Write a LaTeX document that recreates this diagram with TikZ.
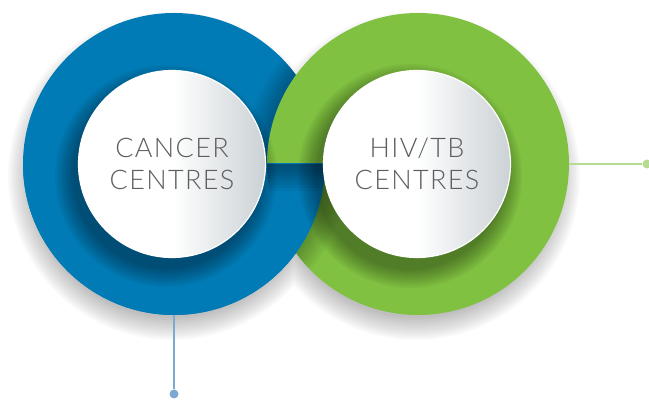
\documentclass[tikz,border=0pt]{standalone}
\usepackage{fontspec}
\setmainfont{Lato Light}[LetterSpace=5]
\usetikzlibrary{positioning}
\definecolor{cancerblue}{HTML}{007BB6}
\definecolor{hivgreen}{HTML}{80C141}
\definecolor{bluelink}{HTML}{7BA9D3}
\definecolor{greenlink}{HTML}{B7DB93}
\definecolor{discgray}{HTML}{CBD1D5}
\definecolor{labelgray}{HTML}{5E5E5E}
\tikzset{x=1pt,y=1pt,
  ring/.style={circle,minimum size=302pt,inner sep=0pt},
  disc/.style={circle,minimum size=187pt,inner sep=0pt,draw=white,line width=1.2pt,
    left color=white,right color=discgray,middle color=white,
    text=labelgray,align=center,font=\fontsize{27}{32}\selectfont},
  dot/.style={circle,minimum size=9pt,inner sep=0pt},
  link/.style={line width=2pt}}

\begin{document}
\begin{tikzpicture}
    \useasboundingbox (0,0) rectangle (649,401);
    % soft shadow under both rings
    \foreach \k in {1,...,12}
        \fill[black,opacity=0.022] (172,225) circle (166-\k*2) (416,225) circle (166-\k*2);
    \node[ring,fill=cancerblue] (cancerring) at (174,237) {};
    % green casts onto blue (upper half)
    \begin{scope}
        \clip (0,237) rectangle (649,401);
        \clip (174,237) circle (151);
        \foreach \k in {1,...,8}
            \fill[black,opacity=0.03] (418-\k*1.5,237) circle (151+\k*1.5);
    \end{scope}
    \node[ring,fill=hivgreen] (hivring) at (418,237) {};
    % blue over green (lower half)
    \begin{scope}
        \clip (0,0) rectangle (649,237);
        \begin{scope}
            \clip (418,237) circle (151);
            \foreach \k in {1,...,8}
                \fill[black,opacity=0.03] (174+\k*1.5,237) circle (151+\k*1.5);
        \end{scope}
        \fill[cancerblue] (174,237) circle (151);
        \clip (174,237) circle (151);
        \clip (418,237) circle (151);
        \foreach \k in {1,...,9}
            \fill[black,opacity=0.045] (250,237) rectangle (340,237-\k*3);
    \end{scope}
    % shadows of the discs
    \begin{scope}
        \clip (174,237) circle (151);
        \foreach \k in {1,...,10}
            \fill[black,opacity=0.04] (166,225) circle (113-\k*2);
    \end{scope}
    \begin{scope}
        \clip (418,237) circle (151);
        \foreach \k in {1,...,10}
            \fill[black,opacity=0.04] (410,225) circle (114-\k*2);
    \end{scope}
    \node[disc] (cancer) at (172,237) {CANCER\\CENTRES};
    \node[disc] (hiv) at (417,237) {HIV/TB\\CENTRES};
    % links
    \node[dot,fill=bluelink] (cancerdot) at (174,7) {};
    \draw[link,bluelink] (cancerring.south) -- (cancerdot);
    \node[dot,fill=greenlink] (hivdot) at (647,237) {};
    \draw[link,greenlink] (hivring.east) -- (hivdot);
\end{tikzpicture}
\end{document}
